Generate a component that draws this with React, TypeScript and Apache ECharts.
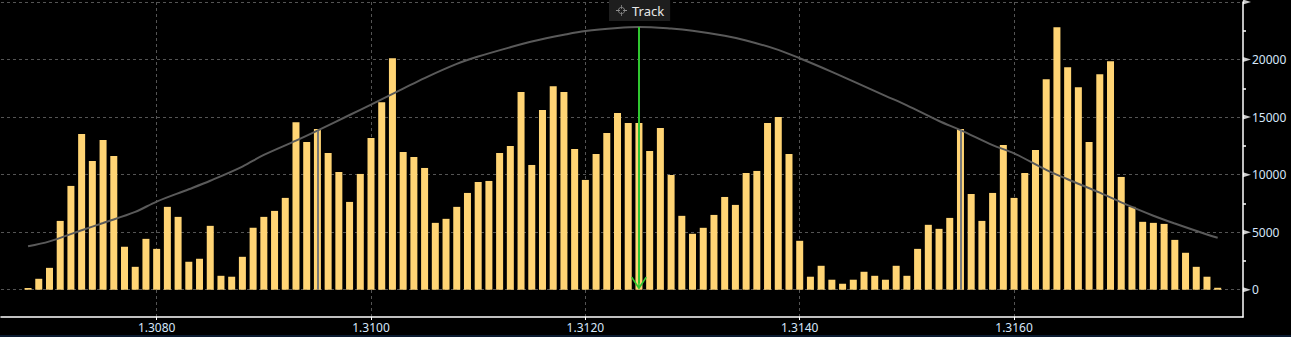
import React, { useEffect, useRef } from "react";
import * as echarts from "echarts";

// ---- data ----
const PRICE_START = 1.3068;
const PRICE_STEP = 0.0001;
const VOLUMES = [
  150, 950, 1900, 5980, 9020, 13520, 11180, 13000, 11620, 3730, 1990, 4420,
  3550, 7200, 6330, 2430, 2690, 5550, 1210, 1130, 2860, 5380,
  6330, 6850, 7980, 14560, 12830, 13960, 11880, 10230, 7630, 10060,
  13180, 16300, 20110, 11960, 11530, 10580, 5810, 6160, 7200, 8410,
  9360, 9450, 11880, 12480, 17170, 10840, 15610, 17690, 17170, 12220,
  9540, 11790, 13610, 15350, 14480, 14480, 12050, 14050, 9970, 6420,
  4860, 5380, 6500, 8060, 7370, 10140, 10320, 14480, 15000, 11790,
  4250, 1130, 2080, 870, 520, 870, 1560, 1210, 870, 2080,
  1210, 3550, 5640, 5290, 6240, 13960, 8320, 5980, 8410, 12570,
  7980, 10140, 12140, 18290, 22800, 19330, 17600, 12830, 18730, 19850,
  9800, 7200, 5900, 5810, 5720, 4330, 3210, 1990, 1130, 170,
];
const CURVE_PRICES = [
  1.3068, 1.307, 1.3073, 1.3075, 1.3078, 1.308, 1.3083, 1.3085, 1.3088, 1.309,
  1.3093, 1.3095, 1.3098, 1.31, 1.3103, 1.3105, 1.3108, 1.311, 1.3113, 1.3115,
  1.3118, 1.312, 1.3123, 1.3125, 1.3128, 1.313, 1.3133, 1.3135, 1.3138, 1.314,
  1.3143, 1.3145, 1.3148, 1.315, 1.3153, 1.3155, 1.3158, 1.316, 1.3163, 1.3165,
  1.3168, 1.317, 1.3173, 1.3175, 1.3178, 1.3179,
];
const CURVE_VALUES = [
  3770, 4200, 5170, 5800, 6760, 7660, 8730, 9470, 10700, 11710,
  12950, 13820, 15180, 16080, 17470, 18390, 19620, 20260, 21070, 21560,
  22150, 22480, 22740, 22820, 22690, 22510, 22070, 21660, 20840, 20110,
  18930, 18100, 16850, 16020, 14660, 13870, 12570, 11850, 10410, 9600,
  8430, 7590, 6430, 5750, 4800, 4510,
];
const SIGMA_PRICES = [1.3095, 1.3155];
const SIGMA_VALUES = [13820, 13870];
const TRACK_PRICE = 1.3125;
const TRACK_VALUE = 22820;
const TRACK_END = 565;
const X_TICKS = [1.308, 1.31, 1.312, 1.314, 1.316];
const Y_TICKS = [0, 5000, 10000, 15000, 20000, 25000];
const Y_LABELS = [0, 5000, 10000, 15000, 20000];
const Y_MINOR = [2500, 7500, 12500, 17500, 22500];
const X_MIN = 1.3065476;
const X_MAX = 1.3181362;
const Y_MIN = -2370;
const Y_MAX = 25000;

const FONT = "'Noto Sans', 'Liberation Sans', sans-serif";
const LABEL_COLOR = "#d6e6fa";
const GRID_COLOR = "#545454";

const CROSS_ICON =
  "path://M6.5 0H7.5V5H6.5Z M6.5 9H7.5V14H6.5Z M0 6.5H5V7.5H0Z M9 6.5H14V7.5H9Z " +
  "M7 2.5A4.5 4.5 0 1 1 6.99 2.5Z M7 3.5A3.5 3.5 0 1 0 7.01 3.5Z";
const ARROW_PATH =
  "path://M8 0L16 12.2L14.6 13L8.75 4.2L8.75 13L7.25 13L7.25 4.2L1.4 13L0 12.2Z";

export default function App() {
  const ref = useRef<HTMLDivElement>(null);

  useEffect(() => {
    if (!ref.current) return;
    const chart = echarts.init(ref.current, undefined, { renderer: "svg" });

    const barData = VOLUMES.map((v, i) => [
      Number((PRICE_START + i * PRICE_STEP).toFixed(4)),
      v,
    ]);
    const curveData = CURVE_PRICES.map((p, i) => [p, CURVE_VALUES[i]]);
    const sigmaLines = SIGMA_PRICES.map((p, i) => [
      { coord: [p, SIGMA_VALUES[i]] },
      { coord: [p, 0] },
    ]);

    chart.setOption({
      animation: false,
      backgroundColor: "#000000",
      grid: {
        left: 1,
        right: 48,
        top: 2,
        bottom: 20,
        containLabel: false,
        outerBoundsMode: "none",
      },
      legend: {
        show: true,
        left: 609,
        top: 0,
        padding: [4, 6, 4, 7],
        itemWidth: 11,
        itemHeight: 11,
        itemGap: 0,
        backgroundColor: "#1e1e1e",
        selectedMode: false,
        data: [{ name: "Track", icon: CROSS_ICON }],
        itemStyle: { color: "#8c8c8c" },
        textStyle: { color: "#e8e8e8", fontSize: 13, fontFamily: FONT },
      },
      xAxis: {
        type: "value",
        min: X_MIN,
        max: X_MAX,
        axisLine: { show: true, onZero: false, lineStyle: { color: "#ffffff", width: 1.5 } },
        axisTick: {
          show: true,
          customValues: X_TICKS,
          length: 3,
          lineStyle: { color: "#ffffff", width: 1 },
        },
        axisLabel: {
          show: true,
          customValues: X_TICKS,
          formatter: (v: number) => v.toFixed(4),
          color: LABEL_COLOR,
          fontSize: 12,
          fontFamily: FONT,
          margin: 4,
        },
        splitLine: {
          show: true,
          lineStyle: { color: GRID_COLOR, type: [3, 3], width: 1 },
        },
      },
      yAxis: [
        {
          type: "value",
          position: "right",
          min: Y_MIN,
          max: Y_MAX,
          axisLine: { show: true, lineStyle: { color: "#ffffff", width: 1.5 } },
          axisTick: {
            show: true,
            customValues: Y_TICKS,
            length: 1,
            lineStyle: { color: "#ffffff", width: 1 },
          },
          axisLabel: {
            show: true,
            customValues: Y_LABELS,
            formatter: (v: number) => String(v),
            color: LABEL_COLOR,
            fontSize: 12,
            fontFamily: FONT,
            margin: 9,
          },
          splitLine: {
            show: true,
            lineStyle: { color: GRID_COLOR, type: [3, 3], width: 1 },
          },
        },
        {
          type: "value",
          position: "right",
          min: Y_MIN,
          max: Y_MAX,
          axisLine: { show: false },
          axisTick: {
            show: true,
            customValues: Y_MINOR,
            length: 3,
            lineStyle: { color: "#ffffff", width: 1.5 },
          },
          axisLabel: { show: false },
          splitLine: { show: false },
        },
      ],
      series: [
        {
          name: "Volume",
          type: "bar",
          data: barData,
          barWidth: 7,
          itemStyle: { color: "#ffd474" },
          z: 2,
          silent: true,
        },
        {
          name: "Curve",
          type: "line",
          data: curveData,
          smooth: 0.35,
          symbol: "none",
          lineStyle: { color: "#5a5a5a", width: 2 },
          z: 3,
          silent: true,
          markLine: {
            silent: true,
            symbol: ["none", "none"],
            label: { show: false },
            lineStyle: { color: "#787878", width: 2, type: "solid" },
            data: sigmaLines,
          },
        },
        {
          name: "Track",
          type: "line",
          data: [],
          z: 6,
          silent: true,
          markLine: {
            silent: true,
            symbol: ["none", ARROW_PATH],
            symbolSize: [16, 13],
            label: { show: false },
            lineStyle: { color: "#30c630", width: 2, type: "solid" },
            itemStyle: { color: "#30c630" },
            data: [
              [
                { coord: [TRACK_PRICE, TRACK_VALUE] },
                { coord: [TRACK_PRICE, TRACK_END] },
              ],
            ],
          },
        },
        {
          name: "ticks",
          type: "scatter",
          data: Y_TICKS.map((v) => [X_MAX, v]),
          symbol: "triangle",
          symbolSize: [5, 8],
          symbolRotate: -90,
          symbolOffset: [4, 0],
          itemStyle: { color: "#ffffff" },
          clip: false,
          silent: true,
          z: 7,
        },
      ],
      graphic: [
        {
          type: "rect",
          left: 0,
          top: 335,
          shape: { width: 1291, height: 2 },
          style: { fill: "#0b1b31" },
          silent: true,
        },
      ],
    });

    return () => {
      chart.dispose();
    };
  }, []);

  return (
    <div
      ref={ref}
      style={{
        position: "fixed",
        left: 0,
        top: 0,
        width: 1291,
        height: 337,
        background: "#000000",
      }}
    />
  );
}
